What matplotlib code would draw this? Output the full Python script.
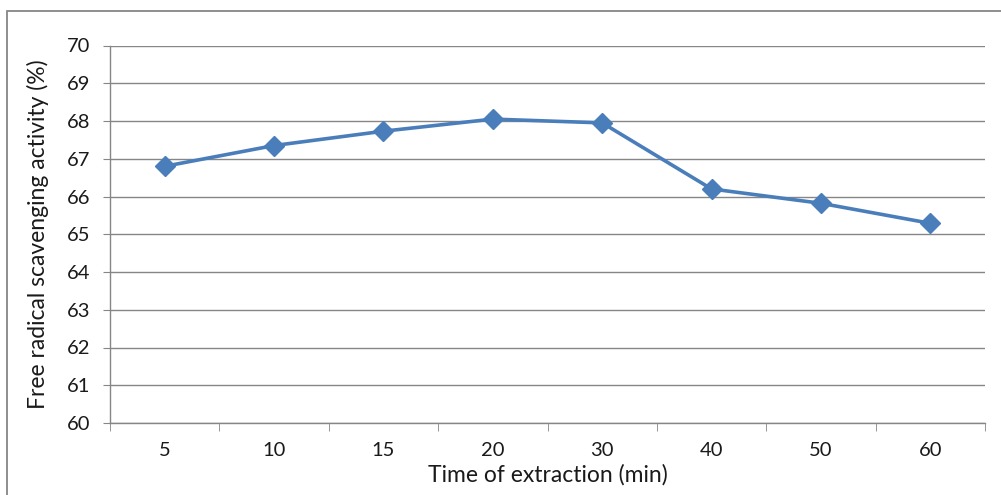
import matplotlib
matplotlib.use("Agg")
import matplotlib.pyplot as plt
from matplotlib.patches import Rectangle

categories = ["5", "10", "15", "20", "30", "40", "50", "60"]
values = [66.80, 67.35, 67.73, 68.05, 67.95, 66.20, 65.82, 65.29]
yticks = [60, 61, 62, 63, 64, 65, 66, 67, 68, 69, 70]

plt.rcParams['font.family'] = ['Lato', 'DejaVu Sans']

W, H = 1001, 495
fig = plt.figure(figsize=(W / 100, H / 100), dpi=100)
ax = fig.add_axes([110 / W, 1 - 423 / H, (985 - 110) / W, (423 - 45.5) / H])

# outer chart frame
fig.patches.append(Rectangle((7 / W, -0.1), 1.2, 1 - 11 / H + 0.1,
                             transform=fig.transFigure, fill=False,
                             edgecolor='#868686', linewidth=1.3, zorder=0))

x = list(range(len(categories)))
ax.plot(x, values, color='#4A7EBB', linewidth=2.6, marker='D',
        markersize=10.5, markerfacecolor='#4A7EBB', markeredgecolor='#4A7EBB',
        zorder=3, clip_on=False)

ax.set_xlim(-0.5, len(categories) - 0.5)
ax.set_ylim(60, 70)
ax.set_yticks(yticks)
ax.set_yticklabels([str(t) for t in yticks])
ax.set_xticks(x)
ax.set_xticklabels(categories)
ax.set_xticks([i - 0.5 for i in range(len(categories) + 1)], minor=True)

ax.grid(axis='y', color='#868686', linewidth=1.0)
ax.set_axisbelow(True)
for s in ['top', 'right']:
    ax.spines[s].set_visible(False)
for s in ['left', 'bottom']:
    ax.spines[s].set_color('#868686')
    ax.spines[s].set_linewidth(1.0)

ax.tick_params(axis='y', length=5, color='#868686', labelsize=14.5, pad=9,
               labelcolor='#1a1a1a')
ax.tick_params(axis='x', which='major', length=0, labelsize=14.5, pad=14,
               labelcolor='#1a1a1a')
ax.tick_params(axis='x', which='minor', length=6, color='#868686')

ax.set_xlabel("Time of extraction (min)", fontsize=16.5, color='#1a1a1a', labelpad=3)
ax.set_ylabel("Free radical scavenging activity (%)", fontsize=16.5, color='#1a1a1a', labelpad=13)

fig.savefig("out.png", dpi=100)
